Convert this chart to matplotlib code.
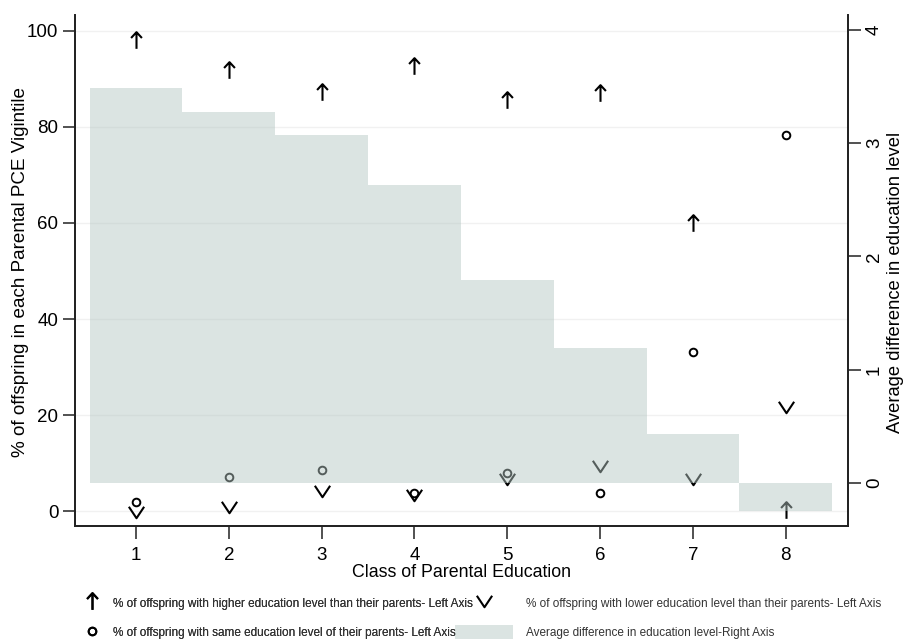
import matplotlib
matplotlib.use("Agg")
import matplotlib.pyplot as plt
import numpy as np
from matplotlib.path import Path
from matplotlib.lines import Line2D
from matplotlib.patches import Patch

plt.rcParams['font.family'] = ['Liberation Sans', 'DejaVu Sans']

# data
klasse = [1, 2, 3, 4, 5, 6, 7, 8]
hoyere = [98.1, 91.9, 87.3, 92.7, 85.6, 87.0, 60.0, 0.2]     # % higher education than parents
lavere = [-0.2, 0.8, 4.2, 3.3, 6.7, 9.4, 6.7, 21.7]          # % lower education than parents
samme = [1.9, 7.1, 8.5, 3.75, 7.9, 3.75, 33.1, 78.3]          # % same education as parents
snitt_diff = [3.49, 3.27, 3.07, 2.63, 1.79, 1.19, 0.43, -0.25]  # average difference (right axis)

# egne markorer
pil = Path([(0, -1), (0, 1), (-0.65, 0.3), (0, 1), (0.65, 0.3)],
           [Path.MOVETO, Path.LINETO, Path.MOVETO, Path.LINETO, Path.LINETO])
vee = Path([(-1, 0.75), (0, -0.75), (1, 0.75)],
           [Path.MOVETO, Path.LINETO, Path.LINETO])

fig = plt.figure(figsize=(9.05, 6.39), dpi=100)
ax = fig.add_axes([75 / 905, 1 - 526 / 639, (848 - 75) / 905, (526 - 15) / 639])
ax2 = ax.twinx()

ax.plot(klasse, hoyere, linestyle='none', marker=pil, markersize=12, markeredgewidth=1.5,
        color='black', markerfacecolor='none')
ax.plot(klasse, lavere, linestyle='none', marker=vee, markersize=11, markeredgewidth=1.5,
        color='black', markerfacecolor='none')
ax.plot(klasse, samme, linestyle='none', marker='o', markersize=5.5, markeredgewidth=1.4,
        color='black', markerfacecolor='none')

bar_farge = (179 / 255, 198 / 255, 194 / 255)
ax2.bar(klasse, snitt_diff, width=1.0, color=bar_farge, alpha=0.47, linewidth=0)

ax.set_xlim(0.343, 8.67)
ax.set_ylim(-3.1, 103.3)
ax2.set_ylim(-0.38, 4.13)

ax.set_xticks(klasse)
ax.set_yticks([0, 20, 40, 60, 80, 100])
ax2.set_yticks([0, 1, 2, 3, 4])
ax.grid(axis='y', color='#f1f1f1', linewidth=1)
ax.set_axisbelow(True)

for a in (ax, ax2):
    a.spines['top'].set_visible(False)
    for s in ('left', 'right', 'bottom'):
        a.spines[s].set_linewidth(1.3)
        a.spines[s].set_color('#222222')
    a.tick_params(length=9, width=1.1, color='#222222', labelsize=13.5, pad=3)
ax.tick_params(axis='x', pad=6)
ax2.tick_params(axis='y', labelrotation=90, labelsize=13.5, pad=4)
for lab in ax2.get_yticklabels():
    lab.set_va('center')

ax.set_xlabel("Class of Parental Education", fontsize=12.8, labelpad=0)
ax.set_ylabel("% of offspring in each Parental PCE Vigintile", fontsize=13.6)
ax2.set_ylabel("Average difference in education level", fontsize=13.2)
ax.yaxis.set_label_coords(-0.0595, 0.497)
ax2.yaxis.set_label_coords(1.0505, 0.4775)

# legend, to kolonner
h_hoy = Line2D([], [], linestyle='none', marker=pil, markersize=12, markeredgewidth=1.5,
               color='black', markerfacecolor='none')
h_sam = Line2D([], [], linestyle='none', marker='o', markersize=5.5, markeredgewidth=1.4,
               color='black', markerfacecolor='none')
h_lav = Line2D([], [], linestyle='none', marker=vee, markersize=11, markeredgewidth=1.5,
               color='black', markerfacecolor='none')
h_bar = Patch(facecolor=bar_farge, alpha=0.47, linewidth=0)

leg_font = {'family': ['Liberation Sans Narrow', 'Liberation Sans'], 'size': 8.5}
leg1 = fig.legend([h_hoy, h_sam],
                  ["% of offspring with higher education level than their parents- Left Axis",
                   "% of offspring with same education level of their parents- Left Axis"],
                  loc='center left', bbox_to_anchor=(83 / 905, 1 - 617.5 / 639), frameon=False,
                  prop=leg_font, handlelength=1.6, handleheight=1.4, handletextpad=0.9,
                  labelspacing=1.3, borderpad=0, borderaxespad=0, labelcolor='#333333')
leg2 = fig.legend([h_lav, h_bar],
                  ["% of offspring with lower education level than their parents- Left Axis",
                   "Average difference in education level-Right Axis"],
                  loc='center left', bbox_to_anchor=(455 / 905, 1 - 617.5 / 639), frameon=False,
                  prop=leg_font, handlelength=4.95, handleheight=1.4, handletextpad=1.05,
                  labelspacing=1.3, borderpad=0, borderaxespad=0, labelcolor='#333333')
fig.add_artist(leg1)

fig.savefig("out.png", dpi=100)
